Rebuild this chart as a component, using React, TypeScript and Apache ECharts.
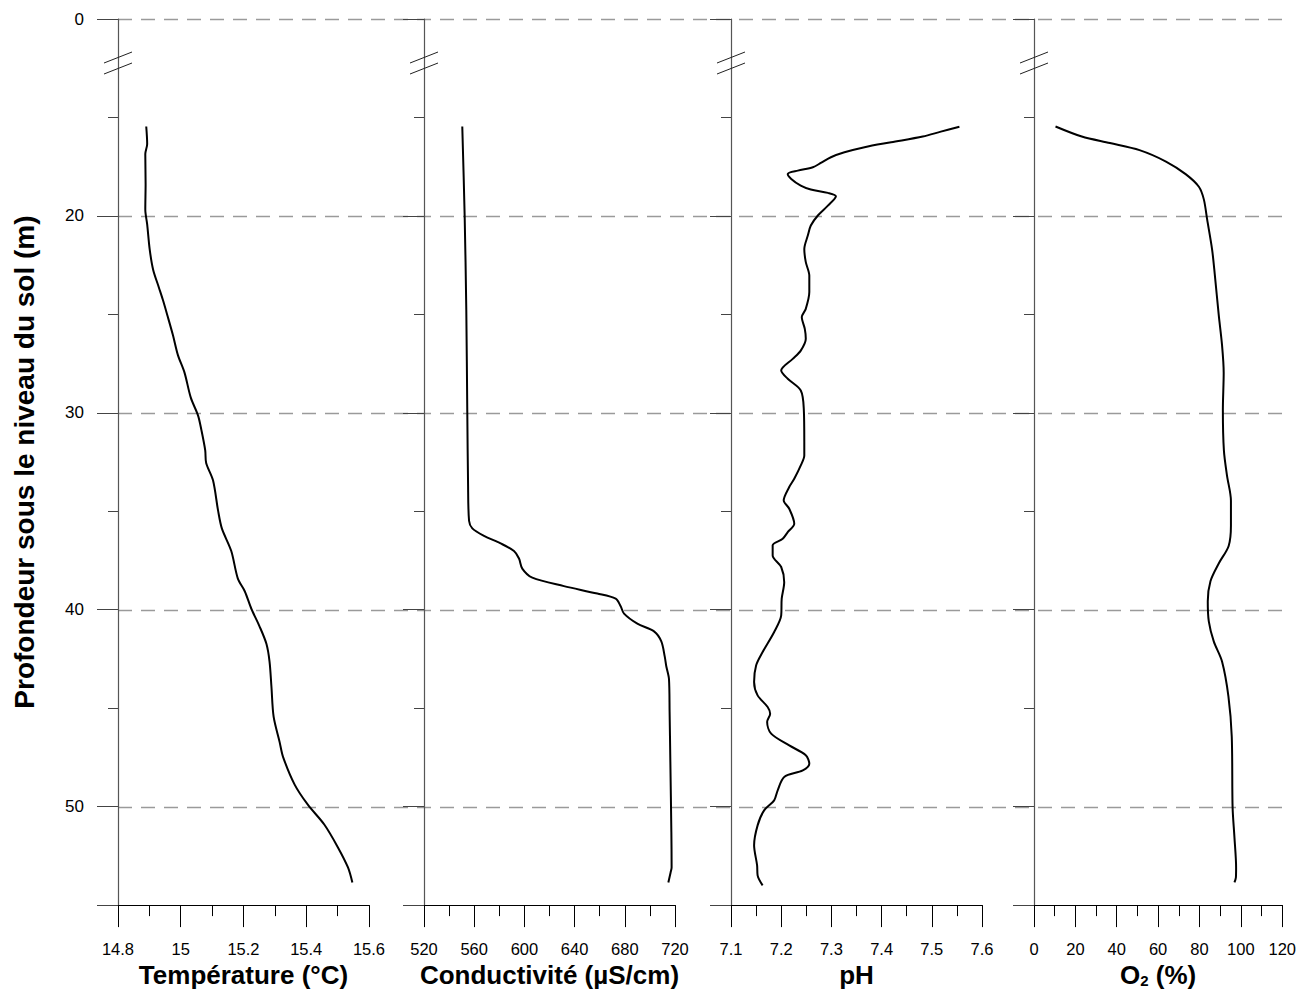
import React, { useEffect, useRef } from 'react';
import * as echarts from 'echarts';

// ---------- DATA ----------
const TEMP_DEPTH = [15.46, 16.35, 16.86, 18.4, 19.67, 20.43, 21.7, 22.73, 23.62, 24.26, 25.03, 26.05, 27.07, 27.96, 29.23, 30.13, 30.89, 31.91, 32.55, 33.44, 34.97, 35.87, 37.02, 38.42, 39.06, 39.95, 40.84, 41.73, 42.63, 43.9, 45.43, 46.71, 47.47, 48.88, 49.9, 50.92, 52.07, 53.09, 53.85];
const TEMP_VALUE = [14.89, 14.893, 14.887, 14.888, 14.887, 14.893, 14.901, 14.912, 14.93, 14.943, 14.957, 14.975, 14.991, 15.012, 15.032, 15.055, 15.066, 15.078, 15.081, 15.103, 15.119, 15.131, 15.161, 15.182, 15.204, 15.225, 15.251, 15.273, 15.283, 15.289, 15.296, 15.315, 15.326, 15.363, 15.405, 15.458, 15.501, 15.533, 15.547];

const COND_DEPTH = [15.46, 20, 24.77, 30, 33.57, 35.48, 35.87, 36.25, 36.63, 37.02, 37.4, 37.91, 38.37, 38.8, 39.18, 39.44, 39.82, 40.2, 40.71, 41.1, 41.61, 42.37, 42.88, 43.52, 45.18, 47.73, 51.3, 53.09, 53.34, 53.85];
const COND_VALUE = [550.5, 552.4, 553.7, 554.5, 555.1, 555.9, 558.5, 567.8, 581, 591.7, 595.7, 598.3, 606.3, 631.5, 658.1, 672.7, 676.7, 679.4, 690, 703.3, 709.1, 711.8, 713.1, 715.2, 715.7, 716.3, 717.1, 717.3, 716.5, 714.7];

const PH_DEPTH = [15.47, 15.72, 15.97, 16.26, 16.51, 16.77, 17.02, 17.31, 17.53, 17.7, 17.87, 18.12, 18.46, 18.66, 18.83, 19.0, 19.48, 19.98, 20.49, 21.0, 21.68, 22.35, 23.03, 23.87, 24.72, 25.14, 25.74, 26.24, 26.84, 27.26, 27.85, 28.27, 28.87, 29.8, 31.49, 32.17, 32.67, 33.35, 33.77, 34.45, 34.87, 35.63, 36.06, 36.4, 36.73, 37.24, 37.83, 38.6, 39.44, 40.29, 41.13, 42.15, 42.83, 43.67, 44.35, 44.94, 45.28, 45.7, 46.29, 46.89, 47.39, 47.82, 48.16, 48.49, 49.17, 49.68, 50.19, 50.95, 51.96, 52.98, 53.49, 54.0];
const PH_VALUE = [7.555, 7.518, 7.482, 7.419, 7.366, 7.326, 7.299, 7.279, 7.263, 7.233, 7.213, 7.22, 7.239, 7.259, 7.293, 7.309, 7.293, 7.273, 7.259, 7.253, 7.246, 7.249, 7.256, 7.256, 7.249, 7.241, 7.247, 7.249, 7.239, 7.223, 7.2, 7.213, 7.239, 7.245, 7.246, 7.246, 7.239, 7.226, 7.216, 7.205, 7.216, 7.226, 7.213, 7.203, 7.183, 7.183, 7.2, 7.206, 7.201, 7.2, 7.186, 7.163, 7.15, 7.146, 7.153, 7.173, 7.178, 7.172, 7.18, 7.216, 7.249, 7.256, 7.243, 7.206, 7.193, 7.186, 7.166, 7.153, 7.146, 7.152, 7.153, 7.163];

const O2_DEPTH = [15.46, 15.97, 16.3, 16.66, 17.24, 17.88, 18.52, 19.16, 20.18, 21.71, 22.98, 25.03, 26.56, 27.96, 29.87, 31.91, 33.19, 34.46, 35.74, 36.76, 37.65, 38.55, 39.57, 40.59, 41.61, 42.63, 44.41, 46.45, 50.03, 51.56, 53.09, 53.6, 53.85];
const O2_VALUE = [10.4, 23.1, 36.7, 51, 63.8, 73.3, 79.7, 82.1, 83.7, 86.1, 87.4, 89.3, 90.9, 91.7, 91.3, 91.8, 93.3, 95.2, 95.2, 94.1, 89.3, 85.3, 84, 84.5, 86.9, 90.9, 94, 95.6, 96, 96.9, 97.7, 97.6, 96.9];

const DEPTH_MIN = 10;
const DEPTH_MAX = 55;
const DEPTH_INTERVAL = 10;
const DEPTH_GRID_MAX = 50;
// the axis is broken: the first tick (plotted at 10) stands for the ground level 0
const DEPTH_TICK_LABELS: Record<number, string> = { 10: '0', 20: '20', 30: '30', 40: '40', 50: '50' };

const X_TITLES = ['Température (°C)', 'Conductivité (µS/cm)', 'pH', '{b|O}{s|2}{b| (%)}'];
const X_MIN = [14.8, 520, 7.1, 0];
const X_MAX = [15.6, 720, 7.6, 120];
const X_INTERVAL = [0.2, 40, 0.1, 20];
const SERIES_DEPTH = [TEMP_DEPTH, COND_DEPTH, PH_DEPTH, O2_DEPTH];
const SERIES_VALUE = [TEMP_VALUE, COND_VALUE, PH_VALUE, O2_VALUE];

const Y_TITLE = 'Profondeur sous le niveau du sol (m)';

// ---------- LAYOUT ----------
const GRID_LEFT = [118, 424, 731, 1034];
const GRID_WIDTH = 251;
const GRID_TOP = 19;
const GRID_HEIGHT = 887;
const FONT = '"Liberation Sans", Arial, Helvetica, sans-serif';

export default function App() {
  const ref = useRef<HTMLDivElement>(null);

  useEffect(() => {
    if (!ref.current) return;
    const chart = echarts.init(ref.current, null, { renderer: 'svg' });

    const grids: any[] = GRID_LEFT.map((l) => ({
      left: l,
      top: GRID_TOP,
      width: GRID_WIDTH,
      height: GRID_HEIGHT,
      containLabel: false,
    }));
    // grid used only for the dashed horizontal reference lines across all panels
    grids.push({
      left: GRID_LEFT[0],
      top: GRID_TOP,
      width: 1290 - GRID_LEFT[0],
      height: (GRID_HEIGHT * (DEPTH_GRID_MAX - DEPTH_MIN)) / (DEPTH_MAX - DEPTH_MIN),
    });

    const xAxes: any[] = X_TITLES.map((t, i) => ({
      type: 'value',
      gridIndex: i,
      min: X_MIN[i],
      max: X_MAX[i],
      interval: X_INTERVAL[i],
      name: t,
      nameLocation: 'middle',
      nameGap: 55,
      nameTextStyle: {
        fontFamily: FONT,
        fontWeight: 'bold',
        fontSize: 26,
        color: '#000',
        rich: {
          b: { fontFamily: FONT, fontWeight: 'bold', fontSize: 26, color: '#000' },
          s: {
            fontFamily: FONT,
            fontWeight: 'bold',
            fontSize: 15,
            color: '#000',
            verticalAlign: 'bottom',
            lineHeight: 10,
          },
        },
      },
      axisLine: { show: true, onZero: false, lineStyle: { color: '#000', width: 1 } },
      axisTick: { show: true, length: 22, lineStyle: { color: '#000', width: 1 } },
      minorTick: { show: true, splitNumber: 2, length: 11, lineStyle: { color: '#000', width: 1 } },
      axisLabel: {
        margin: 35,
        fontFamily: FONT,
        fontSize: 16.5,
        color: '#000',
        showMinLabel: true,
        showMaxLabel: true,
      },
      splitLine: { show: false },
    }));
    xAxes.push({ type: 'value', gridIndex: 4, min: 0, max: 1, show: false });

    const yAxes: any[] = GRID_LEFT.map((_, i) => ({
      type: 'value',
      gridIndex: i,
      inverse: true,
      min: DEPTH_MIN,
      max: DEPTH_MAX,
      interval: DEPTH_INTERVAL,
      name: i === 0 ? Y_TITLE : '',
      nameLocation: 'middle',
      nameGap: 80,
      nameTextStyle: { fontFamily: FONT, fontWeight: 'bold', fontSize: 28, color: '#000' },
      axisLine: { show: true, onZero: false, lineStyle: { color: '#555', width: 1.2 } },
      axisTick: { show: true, length: 21, lineStyle: { color: '#444', width: 1 } },
      minorTick: { show: true, splitNumber: 2, length: 10, lineStyle: { color: '#444', width: 1 } },
      axisLabel: {
        show: i === 0,
        margin: 34,
        fontFamily: FONT,
        fontSize: 17,
        color: '#000',
        formatter: (v: number) => DEPTH_TICK_LABELS[v] ?? '',
      },
      splitLine: { show: false },
    }));
    yAxes.push({
      type: 'value',
      gridIndex: 4,
      inverse: true,
      min: DEPTH_MIN,
      max: DEPTH_GRID_MAX,
      interval: DEPTH_INTERVAL,
      axisLine: { show: false },
      axisTick: { show: false },
      axisLabel: { show: false },
      splitLine: { show: true, lineStyle: { color: '#9a9a9a', width: 1.3, type: [14, 9] } },
    });

    const series: any[] = SERIES_DEPTH.map((depths, i) => ({
      type: 'line',
      xAxisIndex: i,
      yAxisIndex: i,
      data: depths.map((d, k) => [SERIES_VALUE[i][k], d]),
      showSymbol: false,
      smooth: 0.3,
      lineStyle: { color: '#000', width: 2 },
      z: 5,
    }));

    // axis-break marks
    const breaks: any[] = [];
    GRID_LEFT.forEach((x0) => {
      breaks.push({
        type: 'line',
        shape: { x1: x0 - 14, y1: 63, x2: x0 + 14, y2: 52 },
        style: { stroke: '#222', lineWidth: 1 },
        z: 10,
      });
      breaks.push({
        type: 'line',
        shape: { x1: x0 - 14, y1: 74, x2: x0 + 14, y2: 63 },
        style: { stroke: '#222', lineWidth: 1 },
        z: 10,
      });
    });

    chart.setOption({
      animation: false,
      backgroundColor: '#fff',
      grid: grids,
      xAxis: xAxes,
      yAxis: yAxes,
      series,
      graphic: breaks,
    });

    return () => chart.dispose();
  }, []);

  return (
    <div
      ref={ref}
      style={{ position: 'absolute', left: 0, top: 0, width: 1299, height: 993, background: '#fff' }}
    />
  );
}
